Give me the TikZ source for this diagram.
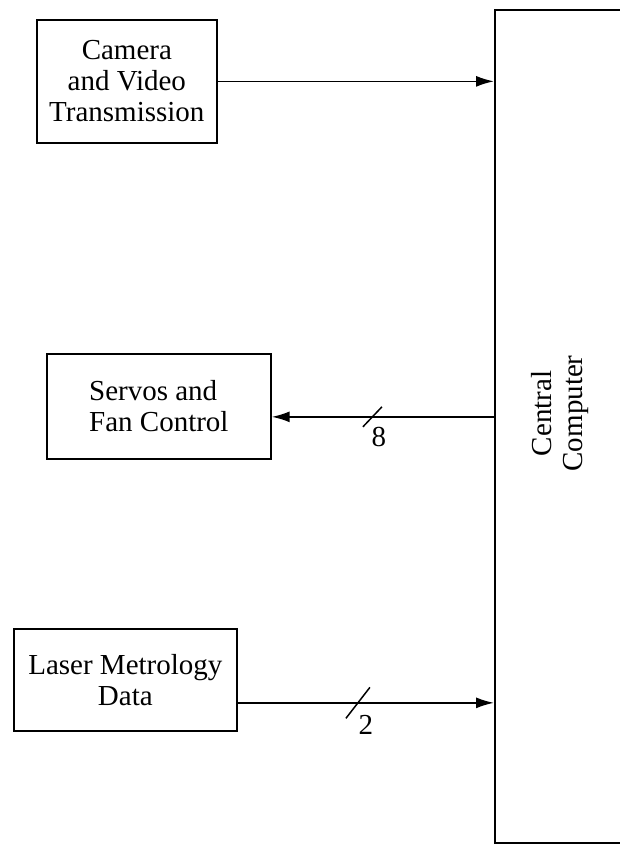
\documentclass[tikz,border=0pt]{standalone}
\usepackage{fontspec}
\setmainfont{Liberation Serif}
\usetikzlibrary{arrows.meta, positioning}

\begin{document}
\begin{tikzpicture}[
    x=1pt, y=-1pt,
    unit/.style={rectangle, draw=black, line width=1.7pt, inner sep=0pt, anchor=north west, font=\fontsize{29pt}{31pt}\selectfont},
    link/.style={-{Latex[length=18pt, width=11pt]}, line width=1.7pt},
    bus/.style={line width=1.5pt},
    count/.style={font=\fontsize{29pt}{31pt}\selectfont, inner sep=0pt}
]
    \useasboundingbox (0,0) rectangle (619,844);

    % Units
    \node[unit, minimum width=180pt, minimum height=123pt, align=center] (cam) at (36,19) {Camera\\and Video\\Transmission};
    \node[unit, minimum width=224pt, minimum height=105pt, align=left] (servo) at (46,353) {Servos and\\Fan Control};
    \node[unit, minimum width=223pt, minimum height=102pt, align=center] (laser) at (13,628) {Laser Metrology\\Data};
    \node[unit, minimum width=132pt, minimum height=833pt] (cpu) at (494,9) {\rotatebox{90}{\hspace{26pt}\begin{tabular}{@{}c@{}}Central\\Computer\end{tabular}}};

    % Ports
    \coordinate (servoin) at ([yshift=-10.5pt]servo.east);
    \coordinate (laserout) at ([yshift=-23pt]laser.east);

    % Links
    \draw[link] (cam.east) -- (cam.east -| cpu.west);
    \draw[link] (servoin -| cpu.west) -- coordinate[pos=0.547] (s8) (servoin);
    \draw[link] (laserout) -- coordinate[pos=0.469] (s2) (laserout -| cpu.west);

    % Bus widths
    \draw[bus] ([shift={(-9.5pt,-10pt)}]s8) -- ([shift={(9.5pt,10pt)}]s8);
    \draw[bus] ([shift={(-12pt,-15.5pt)}]s2) -- ([shift={(12pt,15.5pt)}]s2);
    \node[count] (n8) at ([shift={(6.5pt,-20pt)}]s8) {8};
    \node[count] (n2) at ([shift={(8pt,-22pt)}]s2) {2};

\end{tikzpicture}
\end{document}
